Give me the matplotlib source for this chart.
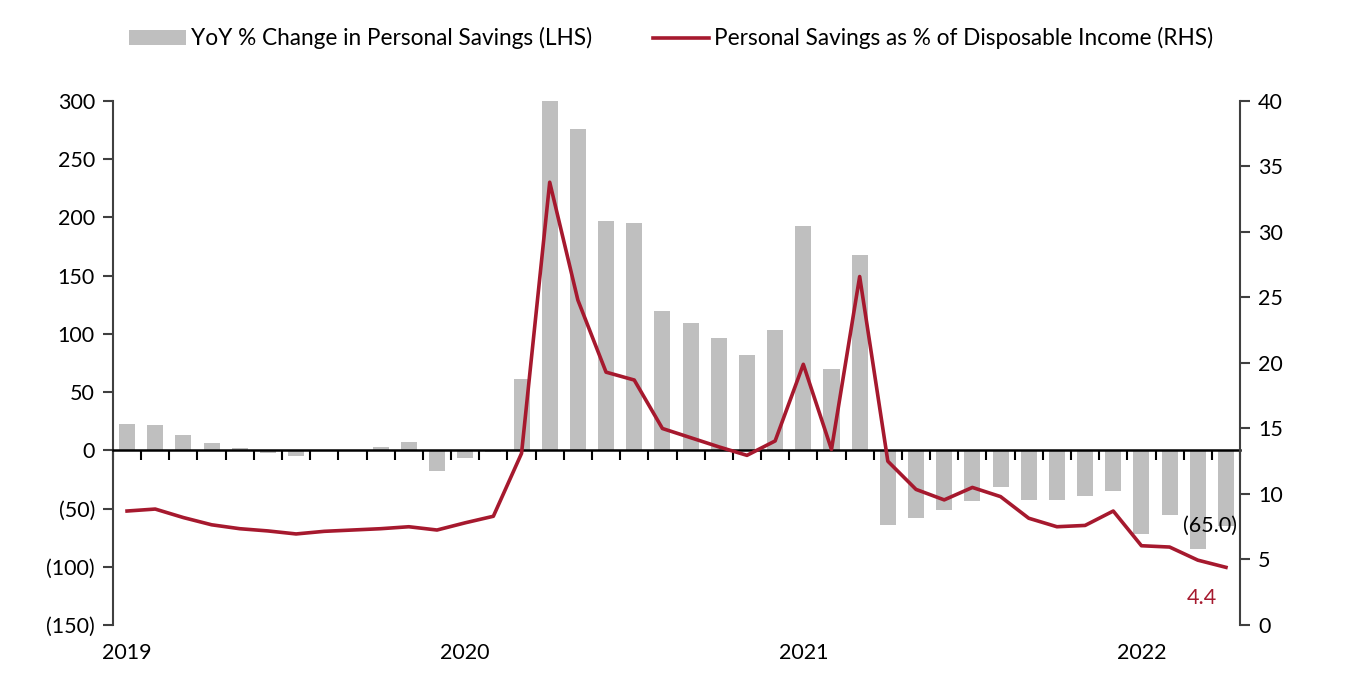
import matplotlib.pyplot as plt
import numpy as np

plt.rcParams['font.family'] = ['Lato', 'DejaVu Sans']

# DATA (monthly, Jan 2019 - Apr 2022)
# ============================================================================
yoy_change = [23, 21.5, 13, 6.5, 2, -2, -5, 0.5, -0.5, 2.8, 7.5, -18,
              -7, -1.5, 61, 300, 276, 197, 195, 120, 109, 96.5, 82, 103,
              193, 70, 168, -64, -58.5, -51, -43.5, -31.5, -42.5, -43, -39, -35,
              -72, -55.5, -85, -65.0]
savings_rate = [8.7, 8.85, 8.2, 7.65, 7.35, 7.18, 6.95, 7.15, 7.25, 7.35, 7.5, 7.25,
                7.8, 8.3, 13.1, 33.8, 24.8, 19.3, 18.7, 15.0, 14.3, 13.6, 12.95, 14.05,
                19.9, 13.4, 26.6, 12.5, 10.35, 9.55, 10.5, 9.8, 8.15, 7.5, 7.6, 8.7,
                6.05, 5.95, 4.95, 4.4]
year_labels = ['2019', '2020', '2021', '2022']
left_ticks = [-150, -100, -50, 0, 50, 100, 150, 200, 250, 300]
right_ticks = [0, 5, 10, 15, 20, 25, 30, 35, 40]
# ============================================================================

BAR = '#BFBFBF'
RED = '#A6192E'
SPINE = '#404040'
FS = 15.5

n = len(yoy_change)
x = np.arange(n) + 0.5

fig = plt.figure(figsize=(13.56, 6.98), dpi=100)
ax = fig.add_axes([0.0833, 0.1046, 0.8312, 0.7507])

ax.bar(x, yoy_change, width=0.57, color=BAR, zorder=2,
       label='YoY % Change in Personal Savings (LHS)')
ax.set_xlim(0, n)
ax.set_ylim(-150, 300)
ax.set_yticks(left_ticks)
ax.set_yticklabels([f'({-v})' if v < 0 else str(v) for v in left_ticks], fontsize=FS)

# zero line with month ticks
ax.spines['bottom'].set_position(('data', 0))
ax.spines['bottom'].set_color('black')
ax.spines['bottom'].set_linewidth(1.8)
ax.spines['bottom'].set_zorder(3)
ax.set_xticks(np.arange(0, n + 1))
ax.tick_params(axis='x', direction='out', length=7, width=1.5, color='black',
               labelbottom=False)
ax.spines['top'].set_visible(False)
ax.spines['right'].set_visible(False)
ax.spines['left'].set_color(SPINE)
ax.spines['left'].set_linewidth(1.5)
ax.tick_params(axis='y', direction='out', length=7, width=1.5, color=SPINE, pad=6)

# year labels along the bottom
sec = ax.secondary_xaxis('bottom')
sec.set_xticks(x[::12])
sec.set_xticklabels(year_labels, fontsize=FS)
sec.tick_params(length=0, pad=13)
sec.spines['bottom'].set_visible(False)

ax2 = ax.twinx()
ax2.plot(x, savings_rate, color=RED, linewidth=2.6, zorder=4,
         label='Personal Savings as % of Disposable Income (RHS)')
ax2.set_ylim(0, 40)
ax2.set_yticks(right_ticks)
ax2.tick_params(axis='y', labelsize=FS, direction='out', length=7, width=1.5,
                color=SPINE, pad=6)
for s in ['top', 'bottom', 'left']:
    ax2.spines[s].set_visible(False)
ax2.spines['right'].set_color(SPINE)
ax2.spines['right'].set_linewidth(1.5)

ax.text(n - 0.1, yoy_change[-1], '(65.0)', ha='right', va='center', fontsize=FS,
        zorder=5)
ax2.annotate('4.4', (x[-1], savings_rate[-1]), xytext=(-17, -22),
             textcoords='offset points', ha='center', va='center',
             fontsize=FS, color=RED)

h1, l1 = ax.get_legend_handles_labels()
h2, l2 = ax2.get_legend_handles_labels()
fig.legend(h1 + h2, l1 + l2, loc='center', bbox_to_anchor=(0.495, 0.945), ncol=2,
           frameon=False, fontsize=16.3, columnspacing=2.7, handlelength=2.5,
           handletextpad=0.2)

plt.savefig('out.png')
